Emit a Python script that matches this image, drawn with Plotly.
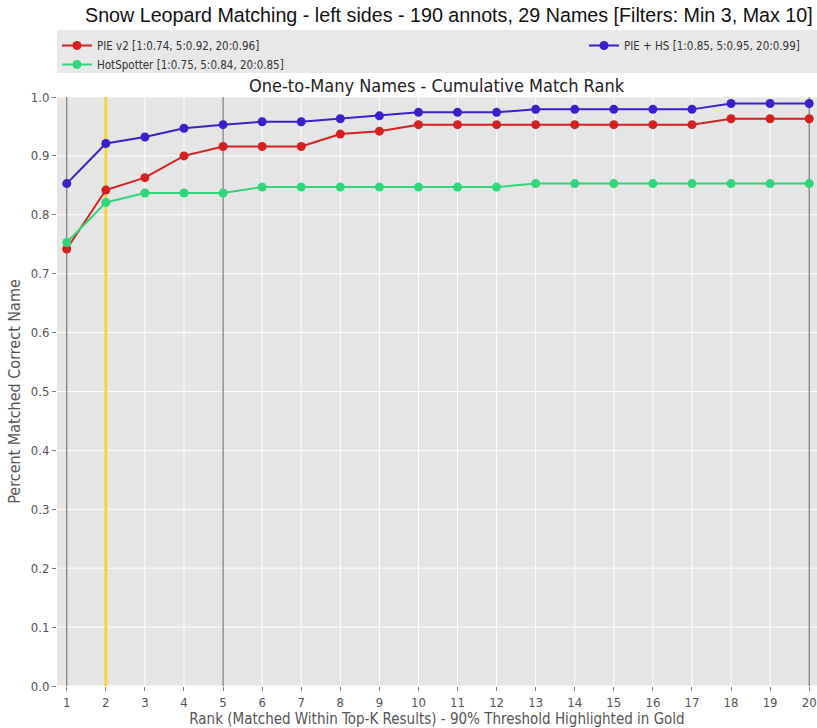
import plotly.graph_objects as go

# Cumulative match rank curves (fraction of queries whose correct name is within top-K)
ranks = list(range(1, 21))
pie_v2 = [0.742, 0.842, 0.863, 0.900, 0.916, 0.916, 0.916, 0.937, 0.942, 0.953,
          0.953, 0.953, 0.953, 0.953, 0.953, 0.953, 0.953, 0.963, 0.963, 0.963]
pie_hs = [0.853, 0.921, 0.932, 0.947, 0.953, 0.958, 0.958, 0.963, 0.968, 0.974,
          0.974, 0.974, 0.979, 0.979, 0.979, 0.979, 0.979, 0.989, 0.989, 0.989]
hotspotter = [0.753, 0.821, 0.837, 0.837, 0.837, 0.847, 0.847, 0.847, 0.847, 0.847,
              0.847, 0.847, 0.853, 0.853, 0.853, 0.853, 0.853, 0.853, 0.853, 0.853]

series_names = ["PIE v2 [1:0.74, 5:0.92, 20:0.96]",
                "HotSpotter [1:0.75, 5:0.84, 20:0.85]",
                "PIE + HS [1:0.85, 5:0.95, 20:0.99]"]
series_colors = ["#d42020", "#2fd67a", "#3d1fc9"]
series_values = [pie_v2, hotspotter, pie_hs]
series_legends = ["legend", "legend", "legend2"]

marker_ranks = [1, 5, 20]     # dark reference lines
threshold_rank = 2            # first rank reaching 90%

title = "Snow Leopard Matching - left sides - 190 annots, 29 Names [Filters: Min 3, Max 10]"
subtitle = "One-to-Many Names - Cumulative Match Rank"
x_title = "Rank (Matched Within Top-K Results) - 90% Threshold Highlighted in Gold"
y_title = "Percent Matched Correct Name"
y_ticks = [i / 10 for i in range(11)]

narrow = "Liberation Sans Narrow, DejaVu Sans Condensed, Liberation Sans, Arial"

PLOT_H = 728 - 97 - 42


def py(pixel_y):
    """Convert a pixel row to paper y for the plot area."""
    return (686 - pixel_y) / PLOT_H


fig = go.Figure()

# grid drawn as shapes so the highlight lines sit cleanly on top of it
for v in y_ticks:
    fig.add_shape(type="line", xref="paper", yref="y", x0=0, x1=1, y0=v, y1=v,
                  line=dict(color="white", width=1), layer="below")
for k in ranks:
    fig.add_shape(type="line", xref="x", yref="paper", x0=k, x1=k, y0=0, y1=1,
                  line=dict(color="white", width=1), layer="below")
for k in marker_ranks:
    fig.add_shape(type="line", xref="x", yref="paper", x0=k, x1=k, y0=0, y1=1,
                  line=dict(color="#5c5c5c", width=1), layer="below")
fig.add_shape(type="line", xref="x", yref="paper", x0=threshold_rank, x1=threshold_rank,
              y0=0, y1=1, line=dict(color="#f4d442", width=3), layer="below")

# legend backdrop
fig.add_shape(type="rect", xref="paper", yref="paper", x0=0, x1=1, y0=py(73), y1=py(30),
              fillcolor="#e8e8e8", line=dict(width=0), layer="below")

for name, color, vals, lg in zip(series_names, series_colors, series_values, series_legends):
    fig.add_trace(go.Scatter(
        x=ranks, y=vals, mode="lines+markers", name=name, legend=lg,
        line=dict(color=color, width=2),
        marker=dict(color=color, size=9),
    ))

fig.add_annotation(text=title, xref="paper", yref="paper", x=0.516, y=py(15),
                   xanchor="center", yanchor="middle", showarrow=False,
                   font=dict(family="Liberation Sans, Arial", size=19.7, color="#111"))
fig.add_annotation(text=subtitle, xref="paper", yref="paper", x=0.5, y=py(85),
                   xanchor="center", yanchor="middle", showarrow=False,
                   font=dict(family=narrow, size=18, color="#222"))

legend_common = dict(orientation="v", yanchor="top", xanchor="left",
                     bgcolor="rgba(0,0,0,0)", itemwidth=30, tracegroupgap=0,
                     font=dict(family=narrow, size=11.5, color="#333"))

fig.update_layout(
    width=817, height=728,
    margin=dict(l=57, r=0, t=97, b=42),
    paper_bgcolor="white",
    plot_bgcolor="#e5e5e5",
    font=dict(family=narrow, size=13, color="#555"),
    showlegend=True,
    legend=dict(x=0.0, y=py(31), **legend_common),
    legend2=dict(x=(584 - 57) / 760, y=py(31), **legend_common),
    xaxis=dict(range=[0.75, 20.2], tickmode="array", tickvals=ranks,
               ticktext=[str(r) for r in ranks], showgrid=False,
               zeroline=False, ticks="outside", ticklen=4,
               tickcolor="#777", ticklabeloverflow="allow",
               title=dict(text=x_title, standoff=5,
                          font=dict(size=15, color="#555"))),
    yaxis=dict(range=[0, 1.0], tickmode="array", tickvals=y_ticks,
               ticktext=[f"{v:.1f}" for v in y_ticks], showgrid=False,
               zeroline=False, ticks="outside", ticklen=4,
               tickcolor="#777", title=dict(text=y_title, standoff=6,
                                            font=dict(size=16, color="#555"))),
)

fig.write_html("out.html")
